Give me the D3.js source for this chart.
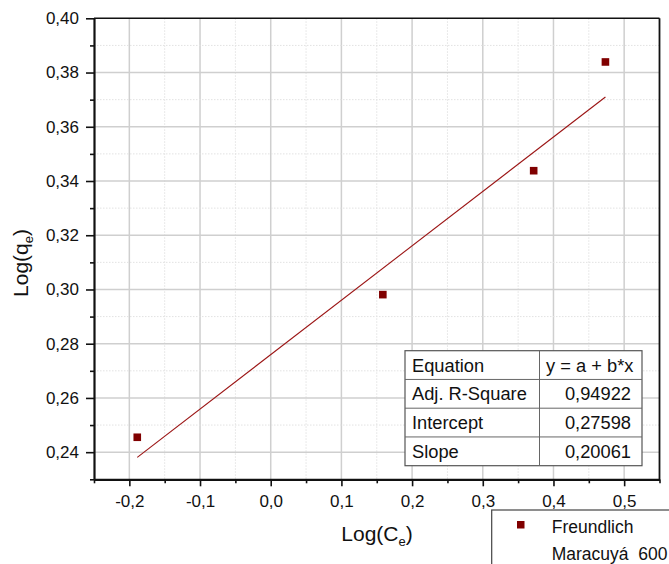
<!DOCTYPE html>
<html><head><meta charset="utf-8">
<script src="https://cdn.jsdelivr.net/npm/d3@7"></script>
<style>body{margin:0;background:#fff}svg{display:block}text{font-family:Arial,"Liberation Sans",sans-serif;fill:#111}</style>
</head><body><svg id="c" width="669" height="564"></svg>
<script>
const xData = [-0.1888, 0.1586, 0.372, 0.4735];
const yData = [0.2455, 0.2981, 0.3438, 0.3839];
const fitIntercept = 0.27598;
const fitSlope = 0.20061;
const xTicks = [-0.2, -0.1, 0.0, 0.1, 0.2, 0.3, 0.4, 0.5];
const yTicks = [0.24, 0.26, 0.28, 0.30, 0.32, 0.34, 0.36, 0.38, 0.40];
const tableRows = [["Equation","y = a + b*x"],["Adj. R-Square","0,94922"],["Intercept","0,27598"],["Slope","0,20061"]];
const legendLabels = ["Freundlich","Maracuyá  600"];

const svg = d3.select("#c");
const L=94, R=659.5, T=18.3, B=479.3;
const x = d3.scaleLinear().domain([-0.25,0.55]).range([L,R]);
const y = d3.scaleLinear().domain([0.23,0.40]).range([B,T]);
const fmt = (d,n)=>d.toFixed(n).replace(".",",");
const xMinor = d3.range(-0.25,0.551,0.05).map(v=>+v.toFixed(3));
const yMinor = d3.range(0.23,0.4001,0.01).map(v=>+v.toFixed(3));

// grid
const g = svg.append("g");
xMinor.forEach(v=>{
  const major = xTicks.some(t=>Math.abs(t-v)<1e-6);
  if (v<=-0.25+1e-6 || v>=0.55-1e-6) return;
  g.append("line").attr("x1",x(v)).attr("x2",x(v)).attr("y1",T).attr("y2",B)
   .attr("stroke",major?"#cfcfcf":"#e2e2e2").attr("stroke-width",major?1.5:1)
   .attr("stroke-dasharray",major?null:"1.5,1.5");
});
yMinor.forEach(v=>{
  const major = yTicks.some(t=>Math.abs(t-v)<1e-6);
  if (v<=0.23+1e-6 || v>=0.40-1e-6) return;
  g.append("line").attr("y1",y(v)).attr("y2",y(v)).attr("x1",L).attr("x2",R)
   .attr("stroke",major?"#cfcfcf":"#e2e2e2").attr("stroke-width",major?1.5:1)
   .attr("stroke-dasharray",major?null:"1.5,1.5");
});

// frame top/right
svg.append("line").attr("x1",L).attr("x2",R).attr("y1",T).attr("y2",T).attr("stroke","#111").attr("stroke-width",1.6);
svg.append("line").attr("x1",R).attr("x2",R).attr("y1",T).attr("y2",B).attr("stroke","#111").attr("stroke-width",1.8);

// axes
const xAxis = svg.append("g").attr("transform",`translate(0,${B})`)
  .call(d3.axisBottom(x).tickValues(xTicks).tickSize(7).tickSizeOuter(0).tickFormat(d=>fmt(d,1)));
svg.append("g").attr("transform",`translate(0,${B})`)
  .call(d3.axisBottom(x).tickValues(xMinor.filter(v=>!xTicks.some(t=>Math.abs(t-v)<1e-6))).tickSize(4).tickSizeOuter(0).tickFormat(""))
  .select(".domain").remove();
const yAxis = svg.append("g").attr("transform",`translate(${L},0)`)
  .call(d3.axisLeft(y).tickValues(yTicks).tickSize(8).tickSizeOuter(0).tickFormat(d=>fmt(d,2)));
svg.append("g").attr("transform",`translate(${L},0)`)
  .call(d3.axisLeft(y).tickValues(yMinor.filter(v=>!yTicks.some(t=>Math.abs(t-v)<1e-6))).tickSize(4).tickSizeOuter(0).tickFormat(""))
  .select(".domain").remove();
svg.selectAll(".domain").attr("stroke","#111").attr("stroke-width",2.2);
svg.selectAll(".tick line").attr("stroke","#111").attr("stroke-width",1.6);
xAxis.selectAll("text").attr("font-size",17).attr("y",16).attr("dy","0.71em").style("fill","#111");
yAxis.selectAll("text").attr("font-size",17).attr("x",-15).style("fill","#111");
svg.selectAll(".tick text").attr("font-family","Arial, 'Liberation Sans', sans-serif");

// axis titles
const xt = svg.append("text").attr("x",377).attr("y",541).attr("text-anchor","middle").attr("font-size",21);
xt.append("tspan").text("Log(C");
xt.append("tspan").text("e").attr("font-size",13).attr("dy",5);
xt.append("tspan").text(")").attr("dy",-5);
const yt = svg.append("text").attr("transform","translate(28,263) rotate(-90)").attr("text-anchor","middle").attr("font-size",21);
yt.append("tspan").text("Log(q");
yt.append("tspan").text("e").attr("font-size",13).attr("dy",5);
yt.append("tspan").text(")").attr("dy",-5);

// fit line
const x0 = d3.min(xData), x1 = d3.max(xData);
svg.append("line").attr("x1",x(x0)).attr("y1",y(fitIntercept+fitSlope*x0))
  .attr("x2",x(x1)).attr("y2",y(fitIntercept+fitSlope*x1))
  .attr("stroke","#9b1414").attr("stroke-width",1.1);

// points
svg.selectAll("rect.pt").data(xData).enter().append("rect").attr("class","pt")
  .attr("x",(d)=>x(d)-3.8).attr("y",(d,i)=>y(yData[i])-3.8).attr("width",7.6).attr("height",7.6)
  .attr("fill","#800000");

// table
const tx0=405, tx1=642, tcol=539.5, ty0=350.7, rh=28.75;
const tb = svg.append("g");
tb.append("rect").attr("x",tx0).attr("y",ty0).attr("width",tx1-tx0).attr("height",rh*tableRows.length)
  .attr("fill","#fff").attr("stroke","#555").attr("stroke-width",1.2);
tb.append("line").attr("x1",tcol).attr("x2",tcol).attr("y1",ty0).attr("y2",ty0+rh*tableRows.length).attr("stroke","#666").attr("stroke-width",1);
tableRows.forEach((r,i)=>{
  if(i>0) tb.append("line").attr("x1",tx0).attr("x2",tx1).attr("y1",ty0+rh*i).attr("y2",ty0+rh*i).attr("stroke","#666").attr("stroke-width",1);
  tb.append("text").attr("x",412).attr("y",ty0+rh*i+rh/2).attr("dy","0.36em").attr("font-size",18.3).text(r[0]);
  if(i===0) tb.append("text").attr("x",546).attr("y",ty0+rh*i+rh/2).attr("dy","0.36em").attr("font-size",18.3).text(r[1]);
  else tb.append("text").attr("x",631).attr("y",ty0+rh*i+rh/2).attr("dy","0.36em").attr("text-anchor","end").attr("font-size",18.3).text(r[1]);
});

// legend
const lg = svg.append("g");
lg.append("rect").attr("x",491.7).attr("y",510).attr("width",200).attr("height",80).attr("fill","#fff").attr("stroke","#444").attr("stroke-width",1.2);
lg.append("rect").attr("x",517).attr("y",521).attr("width",7.5).attr("height",7.5).attr("fill","#800000");
lg.append("text").attr("x",551.7).attr("y",533).attr("font-size",17.5).text(legendLabels[0]);
lg.append("text").attr("x",551.7).attr("y",560).attr("font-size",17.5).attr("xml:space","preserve").style("white-space","pre").text(legendLabels[1]);
</script></body></html>
